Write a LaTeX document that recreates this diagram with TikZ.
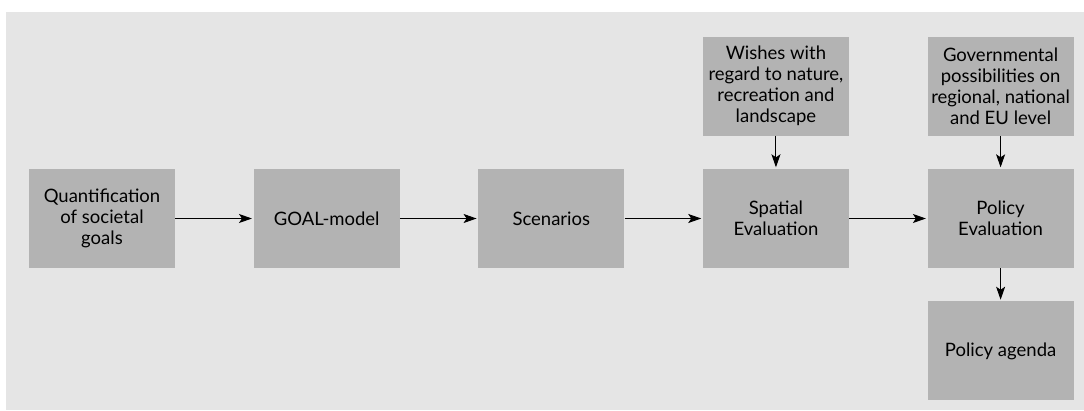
\documentclass[tikz,border=0pt]{standalone}
\usepackage{fontspec}
\setmainfont{Lato}
\usetikzlibrary{arrows.meta,positioning}
\definecolor{bggray}{HTML}{E5E5E5}
\definecolor{boxgray}{HTML}{B3B3B3}

\begin{document}
\begin{tikzpicture}[x=1pt, y=1pt, >={Stealth[length=13pt,width=9pt,inset=3pt]},
  node distance=33pt and 78.25pt,
  box/.style={fill=boxgray, align=center, font=\fontsize{18.5}{21}\selectfont,
              minimum height=99pt, minimum width=146pt, inner sep=0pt},
  flow/.style={->, line width=1pt, shorten >=1.5pt}]
\useasboundingbox (0,0) rectangle (1084,-410);
\fill[bggray] (6,-12) rectangle (1084,-410);
\node[box] (quant) at (102,-218.5) {Quantification\\ of societal\\ goals};
\node[box, right=of quant] (goal) {GOAL-model};
\node[box, right=of goal] (scen) {Scenarios};
\node[box, right=of scen] (spat) {Spatial\\ Evaluation};
\node[box, right=of spat] (peval) {Policy\\ Evaluation};
\node[box, above=of spat] (wish) {Wishes with\\ regard to nature,\\ recreation and\\ landscape};
\node[box, above=of peval] (gov) {Governmental\\ possibilities on\\ regional, national\\ and EU level};
\node[box, below=of peval] (agenda) {Policy agenda};
\draw[flow] (quant) -- (goal);
\draw[flow] (goal) -- (scen);
\draw[flow] (scen) -- (spat);
\draw[flow] (spat) -- (peval);
\draw[flow] (wish) -- (spat);
\draw[flow] (gov) -- (peval);
\draw[flow] (peval) -- (agenda);
\end{tikzpicture}
\end{document}
